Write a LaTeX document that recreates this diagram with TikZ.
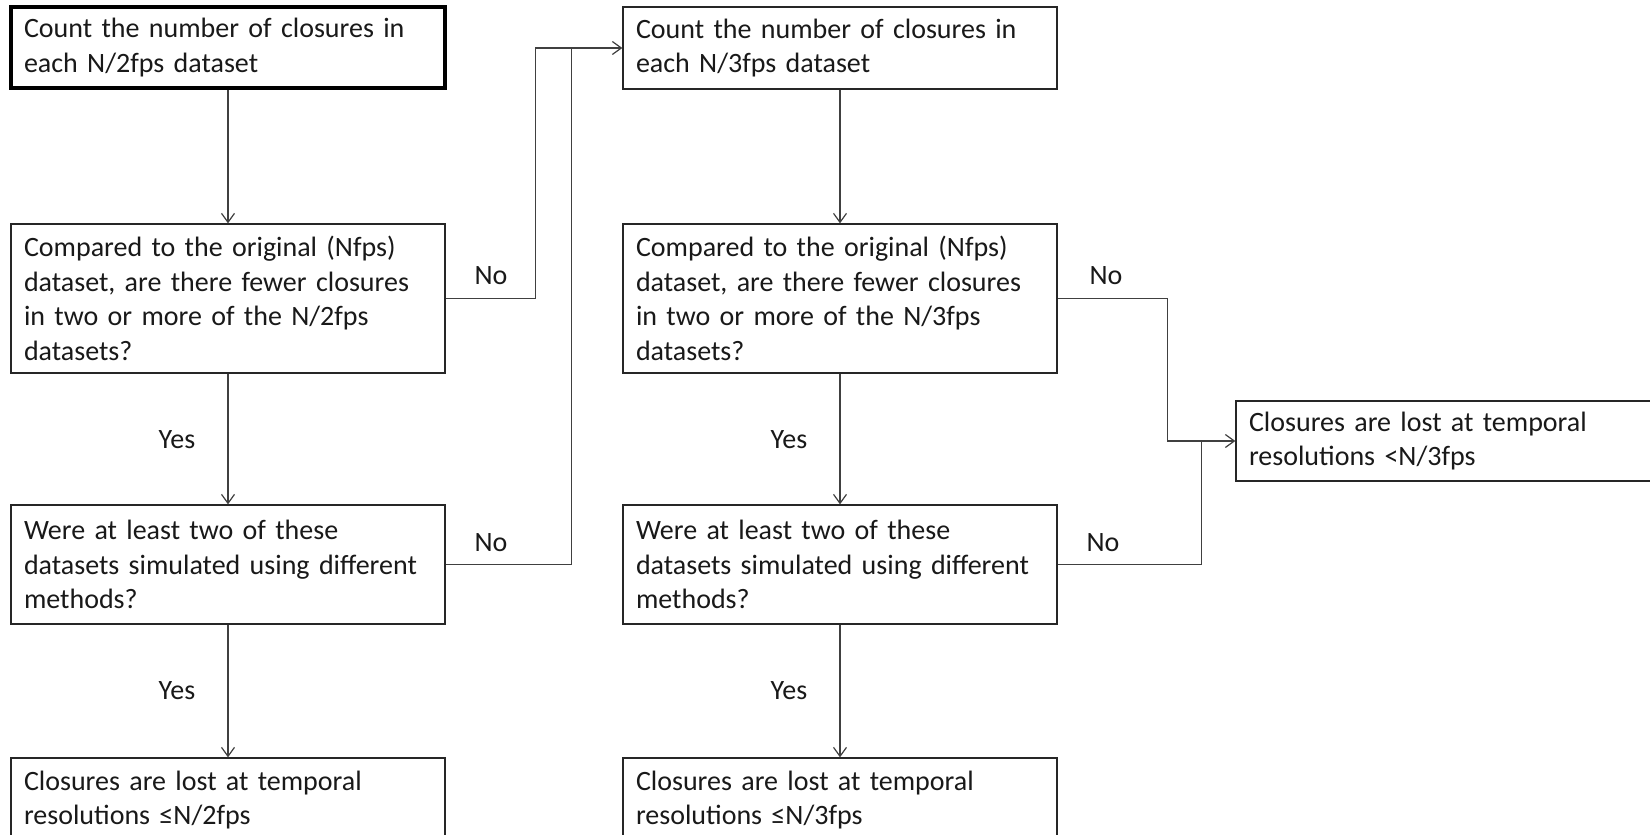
\documentclass[tikz,border=0pt]{standalone}
\usepackage{fontspec}
\setmainfont[WordSpace=0.55]{Carlito}
\usetikzlibrary{arrows.meta}
\tikzset{
  box/.style={draw=black!85, line width=1.3pt, inner xsep=13pt, inner ysep=0pt,
    text width=408pt, align=left, minimum height=#1, text=black!90,
    font=\fontsize{28}{34.7}\selectfont},
  startbox/.style={box=#1, line width=4pt, draw=black},
  conn/.style={draw=black!75, line width=1.3pt},
  arr/.style={conn, -{Straight Barb[length=9pt,width=13pt,line width=1.2pt]}},
  lbl/.style={inner sep=0pt, text=black!90, font=\fontsize{28}{32}\selectfont}
}
\begin{document}
\begin{tikzpicture}[x=1pt,y=-1pt]
\clip (0,0) rectangle (1650,835);
\fill[white] (0,0) rectangle (1650,835);
% column 1
\node[startbox=81pt] (A) at (228,47.5) {Count the number of closures in\\each N/2fps dataset};
\node[box=149pt] (B) at (228,298.5) {Compared to the original (Nfps)\\dataset, are there fewer closures\\in two or more of the N/2fps\\datasets?};
\node[box=119pt] (C) at (228,564.5) {Were at least two of these\\datasets simulated using different\\methods?};
\node[box=84pt] (D) at (228,800) {Closures are lost at temporal\\resolutions \char"2264N/2fps};
% column 2
\node[box=82pt] (E) at (840,48) {Count the number of closures in\\each N/3fps dataset};
\node[box=149pt] (F) at (840,298.5) {Compared to the original (Nfps)\\dataset, are there fewer closures\\in two or more of the N/3fps\\datasets?};
\node[box=119pt] (G) at (840,564.5) {Were at least two of these\\datasets simulated using different\\methods?};
\node[box=84pt] (H) at (840,800) {Closures are lost at temporal\\resolutions \char"2264N/3fps};
% outcome (runs past the right edge)
\node[box=80pt, text width=460pt] (I) at (1479,441) {Closures are lost at temporal\\resolutions <N/3fps};
% labels
\node[lbl] (noB) at (491,276) {No};
\node[lbl] (noC) at (491,543) {No};
\node[lbl] (noF) at (1106,276) {No};
\node[lbl] (noG) at (1103,543) {No};
\node[lbl] (yesB) at (177,440) {Yes};
\node[lbl] (yesC) at (177,691) {Yes};
\node[lbl] (yesF) at (789,440) {Yes};
\node[lbl] (yesG) at (789,691) {Yes};
% connectors
\draw[arr] (A.south) -- (B.north);
\draw[arr] (B.south) -- (C.north);
\draw[arr] (C.south) -- (D.north);
\draw[arr] (E.south) -- (F.north);
\draw[arr] (F.south) -- (G.north);
\draw[arr] (G.south) -- (H.north);
\draw[arr] (B.east) -- ++(90,0) |- (E.west);
\draw[conn] (C.east) -- ++(126,0) |- ([xshift=-53pt]E.west);
\draw[arr] (F.east) -- ++(110,0) |- (I.west);
\draw[conn] (G.east) -- ++(144,0) |- ([xshift=-36pt]I.west);
\end{tikzpicture}
\end{document}
